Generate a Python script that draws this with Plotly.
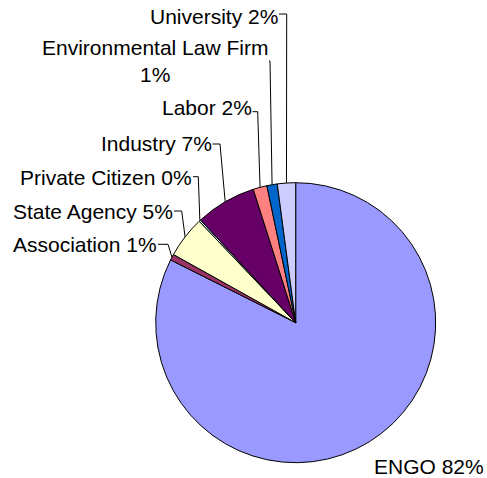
import math
import plotly.graph_objects as go

# ---- data ----
labels = ["ENGO", "Association", "State Agency", "Private Citizen",
          "Industry", "Labor", "Environmental Law Firm", "University"]
values = [82.4, 0.7, 4.8, 0.2, 7.0, 1.6, 1.2, 2.1]
colors = ["#9999FF", "#993366", "#FFFFCC", "#CCFFFF",
          "#660066", "#FF8080", "#0066CC", "#CCCCFF"]

# ---- layout (page pixels) ----
W, H = 487, 478
CX, CY, R = 295.7, 322.7, 140.0
FONT = dict(family="Liberation Sans, Arial, sans-serif", size=21, color="black")

# label placement: (anchor x, text-middle y, xanchor, leader y, elbow x)
label_layout = {
    "ENGO": (372.7, 466.0, "left", None, None),
    "Association": (158.0, 244.5, "right", 244.3, 168.0),
    "State Agency": (174.0, 211.5, "right", 211.0, 181.7),
    "Private Citizen": (193.0, 177.5, "right", 176.7, 198.3),
    "Industry": (212.5, 143.3, "right", 144.0, 220.0),
    "Labor": (252.5, 107.5, "right", 111.7, 257.7),
    "Environmental Law Firm": (269.0, 61.0, "right", 61.0, 270.0),
    "University": (279.0, 16.5, "right", 14.0, 286.7),
}

def px(x):
    return x / W

def py(y):
    return 1 - y / H

total = sum(values)
fig = go.Figure(go.Pie(
    labels=labels, values=values, sort=False, direction="clockwise", rotation=0,
    marker=dict(colors=colors, line=dict(color="black", width=1)),
    textinfo="none", hoverinfo="label+percent", showlegend=False,
    domain=dict(x=[px(CX - R), px(CX + R)], y=[py(CY + R), py(CY - R)]),
))

annotations = []
shapes = []
cum = 0.0
for lab, v in zip(labels, values):
    mid = (cum + v / 2) / total * 2 * math.pi
    cum += v
    ex = CX + R * math.sin(mid)
    ey = CY - R * math.cos(mid)
    pct = round(v / total * 100)
    sep = "<br>" if len(lab) > 20 else " "
    text = f"{lab}{sep}{pct}%"
    ax, ay, xa, ly, elx = label_layout[lab]
    annotations.append(dict(
        x=px(ax), y=py(ay), xref="paper", yref="paper", text=text,
        showarrow=False, xanchor=xa, yanchor="middle", align="center",
        font=FONT, borderpad=0,
    ))
    if ly is not None:
        path = (f"M {px(ax)},{py(ly)} L {px(elx)},{py(ly)} "
                f"L {px(ex)},{py(ey)}")
        shapes.append(dict(type="path", xref="paper", yref="paper", path=path,
                           line=dict(color="black", width=1)))

fig.update_layout(
    width=W, height=H, margin=dict(l=0, r=0, t=0, b=0),
    paper_bgcolor="white", plot_bgcolor="white",
    annotations=annotations, shapes=shapes,
)
fig.write_html(
    "out.html",
    config={"displayModeBar": False},
    post_script="document.body.style.margin='0';document.body.style.overflow='hidden';",
)
